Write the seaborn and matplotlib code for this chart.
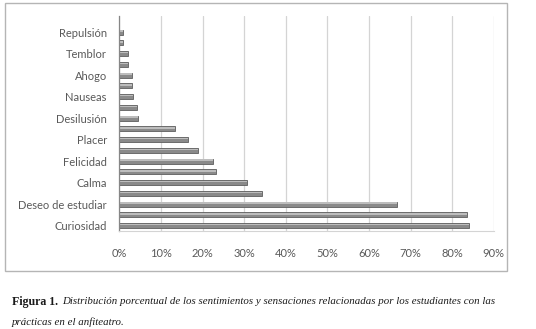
import matplotlib
matplotlib.use('Agg')
import matplotlib.pyplot as plt
from matplotlib.patches import Rectangle
import seaborn as sns
import pandas as pd

# categories from top to bottom (only every other one carries a visible label)
categories = ['Sin etiqueta 10', 'Repulsión', 'Sin etiqueta 9', 'Temblor', 'Sin etiqueta 8', 'Ahogo',
              'Sin etiqueta 7', 'Nauseas', 'Sin etiqueta 6', 'Desilusión', 'Sin etiqueta 5', 'Placer',
              'Sin etiqueta 4', 'Felicidad', 'Sin etiqueta 3', 'Calma', 'Sin etiqueta 2',
              'Deseo de estudiar', 'Sin etiqueta 1', 'Curiosidad']
shown_labels = ['', 'Repulsión', '', 'Temblor', '', 'Ahogo', '', 'Nauseas', '', 'Desilusión', '',
                'Placer', '', 'Felicidad', '', 'Calma', '', 'Deseo de estudiar', '', 'Curiosidad']
percent = [0.0, 1.0, 0.9, 2.0, 2.0, 3.0, 3.0, 3.4, 4.2, 4.5, 13.3, 16.5, 18.8, 22.6, 23.2,
           30.8, 34.3, 66.7, 83.5, 84.0]
x_ticks = [0, 10, 20, 30, 40, 50, 60, 70, 80, 90]

df = pd.DataFrame({'cat': categories, 'pct': percent})

sns.set_style('white')
plt.rcParams['font.family'] = ['Lato', 'DejaVu Sans']

fig = plt.figure(figsize=(5.36, 3.29), dpi=100)
ax = fig.add_axes([119.3 / 536, 1 - 231 / 329, (493.7 - 119.3) / 536, (231 - 16) / 329])

sns.barplot(data=df, x='pct', y='cat', order=categories, orient='h', color='#8a8a8a',
            edgecolor='#5e5e5e', linewidth=0.6, width=0.48, saturation=1, ax=ax)
# light highlight on the upper half of each bar
for p in ax.patches:
    if p.get_width() > 0:
        ax.add_patch(Rectangle((p.get_x(), p.get_y() + p.get_height() * 0.18), p.get_width(),
                               p.get_height() * 0.25, color='#bdbdbd', lw=0, zorder=p.get_zorder() + 0.1))

ax.set_xlim(0, 90)
ax.set_ylim(len(categories) - 0.5, -0.5)
ax.set_xticks(x_ticks)
ax.set_xticklabels([f'{t}%' for t in x_ticks])
ax.set_yticks(range(len(categories)))
ax.set_yticklabels(shown_labels)
ax.tick_params(axis='both', length=0, labelsize=8, labelcolor='#595959')
ax.tick_params(axis='x', pad=12.5)
ax.tick_params(axis='y', pad=9)
ax.set_xlabel('')
ax.set_ylabel('')

ax.set_axisbelow(True)
ax.grid(axis='x', color='#d4d4d4', linewidth=0.9)
ax.grid(axis='y', visible=False)
for s in ['top', 'right']:
    ax.spines[s].set_visible(False)
ax.spines['bottom'].set_color('#d4d4d4')
ax.spines['left'].set_color('#868686')
ax.spines['left'].set_linewidth(0.9)

# outer chart frame
fig.patches.append(Rectangle((5 / 536, 1 - 271 / 329), 502 / 536, 268 / 329, transform=fig.transFigure,
                             fill=False, edgecolor='#b5b5b5', linewidth=1.0))

fig.text(12 / 536, 1 - 302 / 329, 'Figura 1.', family='Liberation Serif', weight='bold',
         fontsize=8.6, va='center', color='#1a1a1a')
fig.text(62 / 536, 1 - 302 / 329,
         'Distribución porcentual de los sentimientos y sensaciones relacionadas por los estudiantes con las',
         family='Liberation Serif', style='italic', fontsize=7.8, va='center', color='#1a1a1a')
fig.text(12 / 536, 1 - 322 / 329, 'prácticas en el anfiteatro.', family='Liberation Serif',
         style='italic', fontsize=7.8, va='center', color='#1a1a1a')

fig.savefig('out.png', dpi=100)
